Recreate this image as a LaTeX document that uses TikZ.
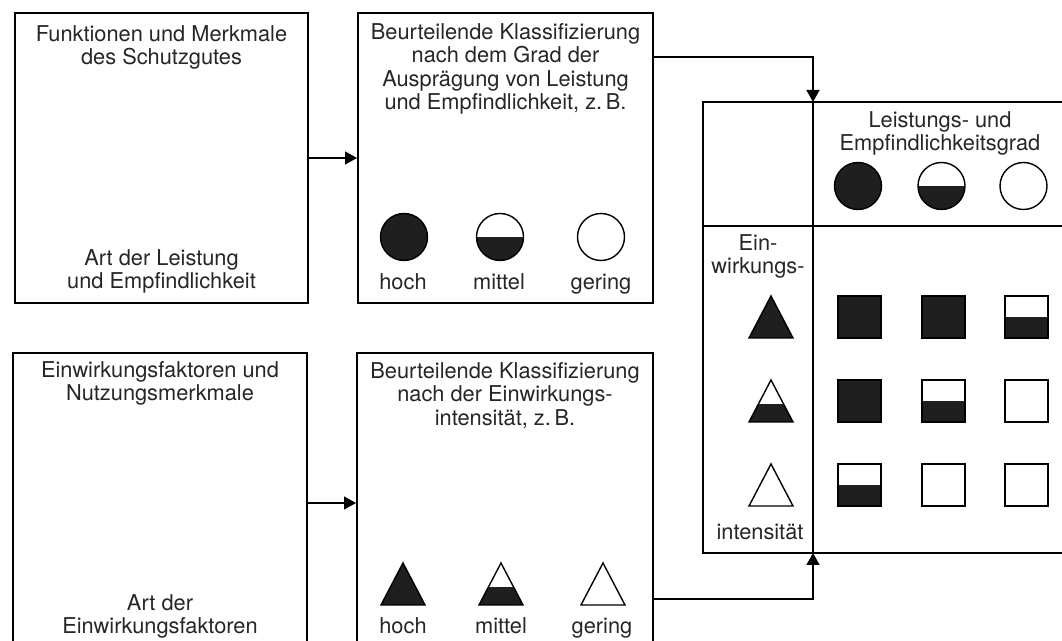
\documentclass[tikz,border=0pt]{standalone}
\usepackage{fontspec}
\setmainfont{TeX Gyre Heros}
\usetikzlibrary{arrows.meta, positioning}

\begin{document}
\begin{tikzpicture}[x=0.5pt, y=-0.5pt, font=\fontsize{10.9pt}{11.7pt}\selectfont,
  box/.style={draw, rectangle, line width=1pt, inner sep=0pt},
  txt/.style={align=center, inner sep=0pt, text=black!85},
  conn/.style={-{Triangle[length=6pt, width=6.5pt]}, line width=0.7pt},
  sym/.style={line width=0.7pt},
  symfill/.style={fill=black!88},
  circ/.pic={
    \begin{scope}
      \clip (0,0) circle (23.5);
      \fill[symfill] (-25,25) rectangle (25,{23.5-47*#1});
    \end{scope}
    \draw[sym] (0,0) circle (23.5);
  },
  tri/.pic={
    \begin{scope}
      \clip (0,-21) -- (22,21) -- (-22,21) -- cycle;
      \fill[symfill] (-23,22) rectangle (23,{21-42*#1});
    \end{scope}
    \draw[sym] (0,-21) -- (22,21) -- (-22,21) -- cycle;
  },
  sq/.pic={
    \fill[symfill] (-21.5,21) rectangle (21.5,{21-42*#1});
    \draw[sym] (-21.5,-21) rectangle (21.5,21);
  }]

\clip (0,0) rectangle (1062,641);

% Kaestchen links
\node[box, minimum width=146.5pt, minimum height=145pt] (fkt) at (161.5,158) {};
\node[box, minimum width=147.5pt, minimum height=145pt] (klassL) at (505.5,158) {};
\node[box, minimum width=147pt, minimum height=150pt] (einw) at (160,503) {};
\node[box, minimum width=148pt, minimum height=150pt] (klassE) at (505,503) {};

\node[txt, below=6.5pt of fkt.north] (fktOben) {Funktionen und Merkmale\\des Schutzgutes};
\node[txt, above=5.2pt of fkt.south] (fktUnten) {Art der Leistung\\und Empfindlichkeit};
\node[txt, below=5.5pt of klassL.north] (klassLText) {Beurteilende Klassifizierung\\nach dem Grad der\\Ausprägung von Leistung\\und Empfindlichkeit, z.\,B.};
\node[txt, below=4.5pt of einw.north] (einwOben) {Einwirkungsfaktoren und\\Nutzungsmerkmale};
\node[txt, above=7.7pt of einw.south] (einwUnten) {Art der\\Einwirkungsfaktoren};
\node[txt, below=5pt of klassE.north] (klassEText) {Beurteilende Klassifizierung\\nach der Einwirkungs-\\intensität, z.\,B.};

% Skala Leistung
\pic at (404,237) {circ=1};
\pic at (500,237) {circ=0.5};
\pic at (601,237) {circ=0};
\node[txt, anchor=base] (hochL) at (403,290) {hoch};
\node[txt, anchor=base] (mittelL) at (499,290) {mittel};
\node[txt, anchor=base] (geringL) at (601,290) {gering};

% Skala Einwirkung
\pic at (403,584) {tri=1};
\pic at (501,584) {tri=0.43};
\pic at (603,584) {tri=0};
\node[txt, anchor=base] (hochE) at (403,634) {hoch};
\node[txt, anchor=base] (mittelE) at (501,634) {mittel};
\node[txt, anchor=base] (geringE) at (602,634) {gering};

% Matrix
\coordinate (tabtop) at (813,102);
\coordinate (tabbot) at (813,553);
\draw[line width=1pt] (1080,102) -- (703,102) -- (703,553) -- (1080,553);
\draw[line width=0.6pt] (tabtop) -- (tabbot);
\draw[line width=0.6pt] (703,226) -- (1080,226);

\node[txt, anchor=north] (grad) at (940,111) {Leistungs- und\\Empfindlichkeitsgrad};
\pic at (858,186) {circ=1};
\pic at (941.5,186) {circ=0.5};
\pic at (1023.5,186) {circ=0};

\node[txt, anchor=north] (einwOben2) at (758,234) {Ein-\\wirkungs-};
\node[txt, anchor=base] (intens) at (760,540) {intensität};
\pic at (771,317) {tri=1};
\pic at (771,401) {tri=0.43};
\pic at (771,485) {tri=0};

\pic at (859.5,317) {sq=1};
\pic at (943.5,317) {sq=1};
\pic at (1026.5,317) {sq=0.5};
\pic at (859.5,401) {sq=1};
\pic at (943.5,401) {sq=0.5};
\pic at (1026.5,401) {sq=0};
\pic at (859.5,485) {sq=0.5};
\pic at (943.5,485) {sq=0};
\pic at (1026.5,485) {sq=0};

% Pfeile
\draw[conn] (fkt) -- (klassL);
\draw[conn] (einw) -- (klassE);
\draw[conn] ([yshift=-22.5pt] klassL.north east) -| (tabtop);
\draw[conn] ([yshift=-123.5pt] klassE.north east) -| (tabbot);

\end{tikzpicture}
\end{document}
